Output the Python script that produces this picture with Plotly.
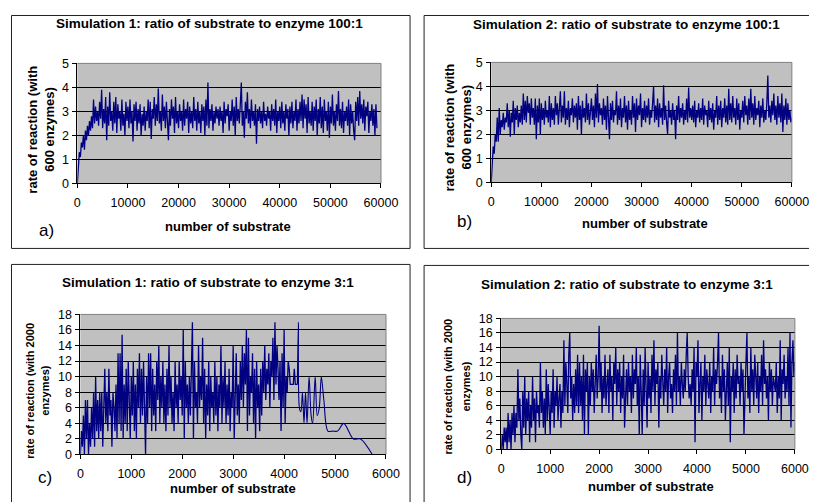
import plotly.graph_objects as go

W, H = 826, 502

# Simulation 1, substrate:enzyme 100:1 (one reading every 200 substrate)
sim1_100_rate = [
    0, 0.9, 1.3, 1.1, 1.7, 1.5, 2.0, 1.4, 2.2, 1.8, 2.4, 2.0, 2.6, 2.2, 2.8, 2.3, 3.5, 2.5, 3.2, 2.6,
    3.0, 2.4, 3.4, 2.7, 3.9, 2.3, 3.1, 2.5, 3.6, 1.8, 3.2, 2.4, 3.8, 2.6, 3.0, 2.2, 3.4, 2.5, 3.6, 2.1,
    3.3, 2.7, 3.0, 2.2, 3.5, 2.4, 2.9, 2.0, 3.4, 2.6, 3.2, 2.3, 3.5, 2.5, 3.0, 1.75, 3.3, 2.6, 3.4, 2.2,
    3.1, 2.5, 3.3, 2.0, 2.9, 2.4, 3.2, 2.2, 3.0, 2.6, 3.5, 2.3, 3.4, 1.85, 3.1, 2.7, 3.6, 2.4, 3.3, 2.6,
    3.95, 2.5, 3.0, 2.2, 3.7, 2.6, 3.2, 2.3, 3.4, 2.6, 1.8, 3.1, 2.4, 3.5, 2.7, 3.2, 2.1, 3.6, 2.5, 3.0,
    2.3, 3.3, 2.6, 3.0, 2.2, 3.5, 2.4, 3.1, 2.7, 3.4, 2.1, 3.2, 2.5, 3.0, 2.3, 3.6, 2.6, 3.1, 2.2, 3.4,
    2.5, 3.0, 2.1, 3.3, 2.6, 3.2, 2.0, 3.5, 2.4, 4.2, 2.3, 3.1, 2.6, 3.3, 2.2, 3.0, 2.5, 3.2, 2.7, 3.1,
    2.4, 3.2, 2.6, 3.0, 2.1, 3.4, 2.5, 3.1, 2.8, 3.3, 2.2, 3.0, 2.6, 3.5, 2.4, 3.2, 2.0, 3.6, 2.6, 3.1,
    2.5, 3.3, 4.2, 2.4, 3.0, 1.9, 3.4, 2.7, 3.8, 2.5, 3.1, 2.3, 3.5, 2.6, 3.0, 2.4, 3.3, 1.65, 3.1, 2.6,
    3.2, 2.5, 3.0, 2.3, 3.4, 2.6, 2.9, 2.4, 3.2, 2.7, 3.0, 2.2, 3.3, 2.6, 3.1, 2.4, 3.5, 2.1, 3.0, 2.6,
    3.2, 2.3, 3.4, 2.5, 3.0, 2.2, 3.3, 2.7, 3.1, 2.0, 3.2, 2.5, 3.4, 2.3, 3.0, 2.6, 3.5, 2.2, 3.1, 2.5,
    3.4, 2.6, 3.7, 2.3, 3.5, 2.7, 3.3, 2.1, 3.6, 2.5, 3.0, 2.4, 3.4, 2.2, 3.2, 2.6, 3.5, 2.0, 3.1, 2.5,
    3.6, 2.3, 3.2, 2.1, 3.5, 2.6, 3.0, 2.2, 3.4, 1.9, 3.2, 2.5, 3.7, 2.4, 3.0, 2.2, 3.3, 2.6, 3.85, 2.4,
    3.1, 2.3, 3.4, 2.1, 3.0, 2.6, 3.2, 2.4, 3.5, 2.0, 3.3, 2.5, 3.0, 2.2, 1.8, 3.4, 2.6, 3.6, 2.4, 3.85,
    2.7, 3.3, 2.5, 3.5, 2.2, 3.2, 2.8, 3.4, 2.1, 3.0, 2.6, 3.3, 2.4, 3.1, 2.0, 3.3, 2.3,
]

# Simulation 2, substrate:enzyme 100:1 (one reading every 200 substrate)
sim2_100_rate = [
    0, 1.0, 1.5, 1.2, 2.0, 1.7, 2.7, 1.7, 3.1, 2.0, 2.6, 2.3, 2.9, 2.2, 2.7, 2.5, 3.3, 2.3, 3.0, 1.9,
    2.9, 2.5, 3.4, 2.0, 3.1, 2.6, 3.2, 2.3, 2.9, 2.5, 3.2, 2.4, 3.7, 2.6, 3.4, 2.5, 3.6, 2.9, 3.3, 2.4,
    3.5, 2.7, 3.1, 2.4, 3.5, 1.8, 3.2, 2.5, 3.5, 2.0, 3.3, 2.6, 3.1, 2.4, 3.4, 2.7, 3.0, 2.5, 3.6, 2.3,
    3.3, 2.6, 3.1, 2.4, 3.6, 2.8, 3.3, 2.4, 3.0, 3.8, 2.5, 3.2, 2.7, 3.8, 2.4, 3.1, 2.6, 3.4, 2.3, 3.1,
    2.8, 3.5, 2.5, 3.2, 2.7, 3.3, 2.2, 3.6, 2.6, 3.2, 2.0, 3.4, 2.7, 3.1, 2.5, 3.7, 2.6, 3.3, 2.4, 3.0,
    3.5, 2.6, 3.2, 2.3, 3.7, 2.7, 4.1, 2.5, 3.3, 2.8, 3.1, 2.4, 3.5, 2.6, 3.2, 2.2, 3.6, 2.7, 1.8, 3.3,
    2.6, 3.4, 2.5, 3.0, 2.8, 3.8, 2.4, 3.2, 2.6, 3.5, 2.3, 3.1, 2.7, 3.6, 2.5, 3.2, 2.2, 3.4, 2.6, 3.0,
    2.4, 3.6, 2.7, 3.3, 2.1, 3.5, 2.6, 3.2, 2.8, 3.7, 2.3, 3.1, 2.6, 3.4, 2.5, 3.2, 2.7, 3.5, 2.4, 3.0,
    2.7, 3.3, 4.0, 2.5, 3.2, 2.6, 3.5, 2.3, 3.3, 2.7, 3.1, 2.4, 4.05, 2.6, 3.2, 2.5, 2.0, 3.4, 2.7, 3.0,
    2.4, 3.3, 2.6, 3.0, 1.8, 3.2, 2.6, 3.6, 2.5, 3.1, 2.7, 3.3, 2.4, 3.0, 2.6, 3.5, 2.5, 3.95, 2.7, 3.1,
    2.6, 3.2, 2.5, 3.4, 2.3, 3.0, 2.7, 3.3, 2.5, 3.1, 2.6, 3.5, 2.4, 3.2, 2.8, 3.0, 2.3, 3.4, 2.6, 3.1,
    2.5, 3.3, 2.2, 3.0, 2.7, 3.6, 2.4, 3.2, 2.6, 3.4, 2.3, 3.1, 2.7, 3.5, 2.5, 3.2, 2.4, 3.9, 2.6, 3.3,
    2.5, 3.6, 2.7, 3.1, 2.4, 3.5, 2.6, 3.3, 2.2, 3.0, 2.7, 3.4, 2.5, 3.6, 2.8, 3.2, 2.4, 3.5, 2.6, 3.9,
    2.7, 3.3, 2.4, 3.6, 2.6, 3.1, 2.8, 3.4, 2.3, 3.2, 2.7, 3.5, 2.5, 3.0, 2.6, 3.3, 4.45, 2.7, 3.2, 2.5,
    3.4, 2.8, 3.7, 2.6, 3.2, 2.4, 3.6, 2.7, 3.3, 2.5, 3.7, 2.1, 3.2, 2.6, 3.5, 2.4, 3.3, 2.6, 3.0, 2.5, 2.7,
]

# Simulation 1, substrate:enzyme 3:1 (every 20 substrate up to 4260, then sparse)
sim1_3_rate = [
    0, 3, 1, 5, 0, 7, 2, 7, 0, 4, 1, 6, 2, 8, 1, 10, 3, 7, 2, 8,
    3, 8, 1, 7, 11, 4, 8, 3, 11, 5, 7, 1, 8, 6, 3, 9, 2, 13, 4, 13,
    3, 15.4, 2, 9, 4, 11, 3, 12, 6, 2, 10, 5, 12, 3, 9, 2, 11, 6, 13, 4,
    11, 5, 12, 3, 0, 10, 4, 13, 6, 13, 3, 11, 5, 9, 3, 12, 7, 14, 4, 10,
    6, 12, 4, 9, 3, 11, 5, 14, 6, 10, 4, 8, 3, 12, 6, 9, 4, 12, 7, 10,
    5, 16, 2, 12, 6, 9, 4, 10, 5, 11, 17, 2, 12, 6, 8, 4, 14, 6, 10, 7,
    15, 4, 11, 2, 9, 5, 12, 3, 10, 6, 8, 4, 12, 5, 10, 3, 9, 6, 14, 4,
    10, 6, 12, 4, 9, 5, 11, 3, 8, 6, 14, 2, 10, 13, 5, 9, 4, 12, 7, 14,
    6, 13, 9, 16, 3, 15, 5, 10, 8, 13, 4, 11, 2, 12, 6, 9, 3, 11, 5, 12,
    8, 14, 7, 11, 9, 13, 6, 12, 10, 15, 7, 17, 9, 14, 11, 7, 12, 3, 13, 6,
    16, 4, 10, 8, 12, 11, 9, 9, 9, 9, 11, 9, 9, 9,
]
sim1_3_tail_substrate = [4280, 4300, 4330, 4360, 4390, 4420, 4450, 4490, 4530, 4560, 4610,
                         4650, 4690, 4730, 4780, 4860, 4950, 5050, 5170, 5360, 5500, 5730]
sim1_3_tail_rate = [17, 6, 5.5, 8, 4, 8, 4, 10, 5, 4, 10,
                    5, 6, 10, 7, 3, 3, 3, 4, 2, 2, 0]

# Simulation 2, substrate:enzyme 3:1 (one reading every 20 substrate)
sim2_3_rate = [
    0, 2, 0, 3, 1, 3, 0, 5, 1, 4, 0, 5, 2, 6, 1, 5, 3, 11, 4, 7,
    2, 0, 8, 3, 10, 2, 7, 4, 8, 1, 6, 3, 10, 4, 7, 1, 8, 5, 6, 3,
    12, 5, 8, 3, 7, 2, 11, 4, 9, 6, 2, 8, 5, 11, 3, 8, 6, 10, 4, 7,
    9, 3, 8, 5, 15, 6, 12, 9, 5, 13, 16, 7, 10, 4, 9, 5, 11, 6, 13, 5,
    12, 6, 10, 4, 13, 2, 11, 8, 12, 2, 10, 6, 12, 8, 11, 5, 9, 13, 7, 10,
    17, 8, 12, 5, 10, 7, 13, 6, 9, 11, 5, 13, 8, 10, 4, 12, 9, 14, 6, 11,
    8, 12, 5, 10, 7, 13, 3, 9, 11, 6, 12, 8, 10, 5, 13, 7, 11, 9, 14, 6,
    10, 2, 13, 8, 2, 11, 6, 14, 9, 3, 12, 7, 10, 5, 13, 8, 15, 6, 11, 9,
    12, 3, 10, 7, 13, 9, 6, 11, 8, 14, 5, 10, 12, 7, 9, 5, 11, 8, 13, 6,
    16, 8, 10, 6, 12, 9, 7, 11, 8, 13, 16, 10, 7, 9, 6, 11, 8, 14, 1, 12,
    10, 15, 5, 9, 12, 4, 10, 8, 13, 6, 11, 9, 7, 12, 5, 10, 8, 14, 6, 11,
    9, 12, 16, 7, 10, 5, 13, 8, 11, 4, 9, 12, 6, 14, 1, 10, 8, 12, 5, 11,
    7, 13, 9, 10, 6, 12, 8, 11, 2, 9, 12, 16, 7, 10, 5, 14, 8, 11, 6, 13,
    9, 7, 12, 5, 10, 8, 13, 6, 15, 9, 11, 7, 10, 4, 12, 8, 11, 6, 10, 9,
    8, 12, 5, 10, 7, 15, 4, 11, 9, 13, 7, 10, 8, 14, 6, 16, 3, 12, 15, 10,
    12,
]

sim1_100_substrate = [i * 200 for i in range(len(sim1_100_rate))]
sim2_100_substrate = [i * 200 for i in range(len(sim2_100_rate))]
sim1_3_substrate = [i * 20 for i in range(len(sim1_3_rate))]
sim2_3_substrate = [i * 20 for i in range(len(sim2_3_rate))]

FONT = "Liberation Sans, Arial, sans-serif"
LINE = "#000080"


# positions below are pixels of the 817x502 picture; the page photograph comes out
# shifted and a little shrunk against the figure, so they are mapped back here
def fx(x):
    return max((x - 10.8) / 0.9737, 0.5)


def fy(y):
    return max((y - 14.6) / 0.972, 0.5)


def px(x):
    return min(fx(x) / W, 1.0)


def py(y):
    return max(1 - fy(y) / H, 0.0)


panels = [
    dict(box=(77, 63, 380, 183), xr=[0, 60000], xd=10000, yr=[0, 5], yd=1,
         title="Simulation 1: ratio of substrate to enzyme 100:1", tpos=(209, 23),
         ylines=["rate of reaction (with", "600 enzymes)"], ypos=(32, 49, 129), yfs=13,
         xtpos=(227, 226), label="a)", lpos=(46, 230), frame=(7, 7, 409, 248)),
    dict(box=(490, 62, 790, 182), xr=[0, 60000], xd=10000, yr=[0, 5], yd=1,
         title="Simulation 2: ratio of substrate to enzyme 100:1", tpos=(625, 24),
         ylines=["rate of reaction (with", "600 enzymes)"], ypos=(448, 465, 127), yfs=13,
         xtpos=(643, 223), label="b)", lpos=(463, 221), frame=(423, 7, 840, 248)),
    dict(box=(80, 314, 385, 454), xr=[0, 6000], xd=1000, yr=[0, 18], yd=2,
         title="Simulation 1: ratio of substrate to enzyme 3:1", tpos=(207, 282),
         ylines=["rate of reaction (with 2000", "enzymes)"], ypos=(30, 45, 390), yfs=11,
         xtpos=(232, 488), label="c)", lpos=(45, 477), frame=(5, 264, 409, 530)),
    dict(box=(500, 318, 793, 449), xr=[0, 6000], xd=1000, yr=[0, 18], yd=2,
         title="Simulation 2: ratio of substrate to enzyme 3:1", tpos=(625, 284),
         ylines=["rate of reaction (with 2000", "enzymes)"], ypos=(447, 465, 386), yfs=11,
         xtpos=(649, 486), label="d)", lpos=(463, 477), frame=(423, 265, 840, 530)),
]

fig = go.Figure()

line_style = dict(color=LINE, width=1.3)
fig.add_trace(go.Scatter(x=sim1_100_substrate, y=sim1_100_rate, mode="lines", line=line_style,
                         xaxis="x", yaxis="y"))
fig.add_trace(go.Scatter(x=sim2_100_substrate, y=sim2_100_rate, mode="lines", line=line_style,
                         xaxis="x2", yaxis="y2"))
fig.add_trace(go.Scatter(x=sim1_3_substrate, y=sim1_3_rate, mode="lines", line=line_style,
                         xaxis="x3", yaxis="y3"))
# the sparse tail is drawn smoothed, as in the original spreadsheet chart
fig.add_trace(go.Scatter(x=[sim1_3_substrate[-1]] + sim1_3_tail_substrate,
                         y=[sim1_3_rate[-1]] + sim1_3_tail_rate,
                         mode="lines", line=dict(color=LINE, width=1.1, shape="spline", smoothing=0.9),
                         xaxis="x3", yaxis="y3"))
fig.add_trace(go.Scatter(x=sim2_3_substrate, y=sim2_3_rate, mode="lines", line=line_style,
                         xaxis="x4", yaxis="y4"))


def note(text, x, y, size, bold=False, angle=0):
    return dict(text=("<b>%s</b>" % text) if bold else text, x=px(x), y=py(y),
                xref="paper", yref="paper", xanchor="center", yanchor="middle",
                showarrow=False, textangle=angle,
                font=dict(family=FONT, size=size, color="black"))


annotations = []
shapes = []
layout = {}
for i, p in enumerate(panels):
    n = "" if i == 0 else str(i + 1)
    x0, y0, x1, y1 = p["box"]
    layout["xaxis" + n] = dict(
        domain=[px(x0), px(x1)], range=p["xr"], dtick=p["xd"], tick0=0, anchor="y" + n,
        tickformat="d", showgrid=False, zeroline=False, showline=True, linecolor="black",
        linewidth=1, ticks="outside", ticklen=4, tickcolor="black", fixedrange=True,
        tickfont=dict(family=FONT, size=12.5, color="black"), ticklabelstandoff=4,
    )
    layout["yaxis" + n] = dict(
        domain=[py(y1), py(y0)], range=p["yr"], dtick=p["yd"], tick0=0, anchor="x" + n,
        showgrid=True, gridcolor="black", gridwidth=1, zeroline=False,
        showline=True, linecolor="black", linewidth=1,
        ticks="outside", ticklen=4, tickcolor="black", fixedrange=True,
        tickfont=dict(family=FONT, size=12.5, color="black"), ticklabelstandoff=1,
    )
    # grey plot-area frame on the top and right
    shapes.append(dict(type="line", xref="x" + n + " domain", yref="y" + n + " domain",
                       x0=0, x1=1, y0=1, y1=1, line=dict(color="#808080", width=1)))
    shapes.append(dict(type="line", xref="x" + n + " domain", yref="y" + n + " domain",
                       x0=1, x1=1, y0=0, y1=1, line=dict(color="#808080", width=1)))
    bx0, by0, bx1, by1 = p["frame"]
    shapes.append(dict(type="rect", xref="paper", yref="paper",
                       x0=fx(bx0) / W, x1=fx(bx1) / W, y0=1 - fy(by1) / H, y1=1 - fy(by0) / H,
                       line=dict(color="#222222", width=1)))

    annotations.append(note(p["title"], *p["tpos"], 13.5, bold=True))
    annotations.append(note("number of substrate", *p["xtpos"], 13, bold=True))
    lx1, lx2, lyc = p["ypos"]
    for txt, lx in zip(p["ylines"], (lx1, lx2)):
        annotations.append(note(txt, lx, lyc, p["yfs"], bold=True, angle=-90))
    annotations.append(note(p["label"], *p["lpos"], 17))

fig.update_layout(
    width=W, height=H, autosize=False,
    margin=dict(l=0, r=0, t=0, b=0),
    paper_bgcolor="white", plot_bgcolor="#C0C0C0",
    showlegend=False,
    annotations=annotations, shapes=shapes,
    **layout,
)

fig.write_html("out.html")
